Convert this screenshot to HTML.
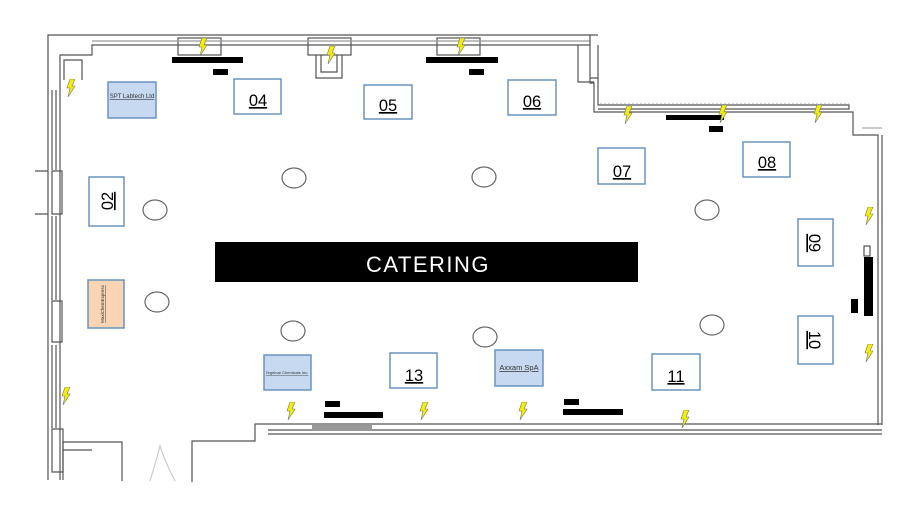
<!DOCTYPE html>
<html><head><style>
body{margin:0;background:#fff;}
svg{display:block;font-family:"Liberation Sans",sans-serif;}
</style></head><body>
<svg width="918" height="507" viewBox="0 0 918 507" xmlns="http://www.w3.org/2000/svg">
<defs>
<symbol id="bolt" viewBox="0 0 10 18"><polygon points="4,0 9,0 6,7 9,7 2,18 4,9 1,9" fill="#f4f000" stroke="#777" stroke-width="0.6"/></symbol>
</defs>
<g fill="none" stroke="#555" stroke-width="1.2">
<path d="M48,480 L48,35 L598,35"/>
<path d="M60,480 L60,55 L92,55 L92,45 L590,45"/>
<path d="M64,80 L64,60 L82,60 L82,80"/>
<rect x="178" y="38" width="43" height="17"/>
<rect x="308" y="38" width="43" height="17"/>
<rect x="437" y="38" width="43" height="17"/>
<path d="M316,55 L316,78 L342,78 L342,55 M321,55 L321,72 L337,72 L337,55"/>
<path d="M92,41 L590,41" stroke="#999"/>
<path d="M590,35 L590,83 L594,83 L594,112 L853,112 L853,135 L878,135 L878,425"/>
<path d="M598,45 L598,78 L590,78 M598,50 L598,105 L849,105 L849,109 L598,109" />
<path d="M578,45 L578,82 L594,82"/>
<path d="M600,104 L849,104" stroke="#bbb" stroke-dasharray="2,2"/>
<path d="M882,135 L882,425"/>
<path d="M862,128 L882,128" stroke="#aaa"/>
<path d="M882,424 L255,424 L255,441 L192,441 L192,482"/>
<path d="M882,430 L268,430"/>
<path d="M882,434 L268,434"/>
<path d="M122,481 L122,442 L63,442 L63,480"/>
<path d="M63,450 L92,450"/>
<path d="M52,171 L62,171 L62,214 L52,214 Z M52,301 L62,301 L62,342 L52,342 Z M52,429 L63,429 L63,472 L52,472 Z"/>
<path d="M35,171 L48,171 M35,214 L48,214"/>
<path d="M52,90 L52,170 M56,90 L56,170 M52,216 L52,300 M56,216 L56,300 M52,345 L52,428 M56,345 L56,428"/>
<path d="M150,481 Q158,455 160,445 Q162,455 175,481" stroke="#ccc"/>
</g>
<rect x="312" y="425" width="60" height="6" fill="#999"/>
<g fill="none" stroke="#666" stroke-width="1.2">
<ellipse cx="294" cy="178" rx="12" ry="10"/><ellipse cx="484" cy="177" rx="12" ry="10"/>
<ellipse cx="155" cy="210" rx="12" ry="10"/><ellipse cx="707" cy="210" rx="12" ry="10"/>
<ellipse cx="157" cy="302" rx="12" ry="10"/><ellipse cx="293" cy="331" rx="12" ry="10"/>
<ellipse cx="485" cy="337" rx="12" ry="10"/><ellipse cx="712" cy="325" rx="12" ry="10"/>
</g>
<g fill="#000">
<rect x="172" y="57" width="71" height="6"/><rect x="213" y="69" width="15" height="6"/>
<rect x="426" y="57" width="72" height="6"/><rect x="469" y="69" width="15" height="6"/>
<rect x="666" y="115" width="58" height="5"/><rect x="709" y="126" width="14" height="6"/>
<rect x="325" y="401" width="15" height="6"/><rect x="324" y="412" width="59" height="6"/>
<rect x="564" y="399" width="15" height="6"/><rect x="563" y="409" width="60" height="6"/>
<rect x="864" y="257" width="9" height="59"/><rect x="851" y="299" width="7" height="14"/>
</g>
<rect x="864" y="246" width="6" height="10" fill="#fff" stroke="#333"/>
<rect x="215" y="242" width="423" height="40" fill="#000"/>
<text x="428" y="272" fill="#fff" font-size="22" text-anchor="middle" letter-spacing="1.5">CATERING</text>
<g stroke="#6a93c0" stroke-width="1.5" fill="#fff">
<rect x="234" y="79" width="47" height="35"/><rect x="364" y="85" width="48" height="34"/>
<rect x="508" y="80" width="48" height="35"/><rect x="598" y="148" width="47" height="36"/>
<rect x="743" y="142" width="47" height="35"/><rect x="89" y="177" width="35" height="49"/>
<rect x="798" y="219" width="35" height="47"/><rect x="798" y="316" width="35" height="48"/>
<rect x="652" y="354" width="48" height="36"/><rect x="390" y="353" width="47" height="35"/>
<rect x="108" y="82" width="48" height="36" fill="#c6d9f0"/>
<rect x="88" y="280" width="36" height="48" fill="#f9d5b5"/>
<rect x="264" y="355" width="47" height="35" fill="#c6d9f0"/>
<rect x="495" y="350" width="48" height="36" fill="#c6d9f0"/>
</g>
<g font-size="16.5" text-anchor="middle" text-decoration="underline" fill="#000">
<text x="258" y="106">04</text><text x="388" y="111">05</text><text x="532" y="107">06</text>
<text x="622" y="177">07</text><text x="767" y="168">08</text><text x="676" y="382">11</text>
<text x="414" y="381">13</text>
<text transform="translate(113,201) rotate(-90)">02</text>
<text transform="translate(809,243) rotate(90)">09</text>
<text transform="translate(809,340) rotate(90)">10</text>
</g>
<g font-size="6" text-anchor="middle" text-decoration="underline" fill="#333">
<text x="132" y="98">SPT Labtech Ltd</text>
<text x="287" y="374" font-size="4">Tegeinar Chemicals Inc.</text>
<text x="519" y="370" font-size="7.5">Axxam SpA</text>
<text transform="translate(104,304) rotate(-90)" font-size="4.5">MaxiChemExpress</text>
</g>
<g>
<use href="#bolt" x="198" y="38" width="10" height="18"/><use href="#bolt" x="326" y="46" width="10" height="18"/>
<use href="#bolt" x="456" y="38" width="10" height="18"/><use href="#bolt" x="66" y="79" width="10" height="18"/>
<use href="#bolt" x="623" y="106" width="10" height="18"/><use href="#bolt" x="718" y="105" width="10" height="18"/>
<use href="#bolt" x="813" y="105" width="10" height="18"/><use href="#bolt" x="864" y="207" width="10" height="18"/>
<use href="#bolt" x="864" y="344" width="10" height="18"/><use href="#bolt" x="61" y="387" width="10" height="18"/>
<use href="#bolt" x="286" y="402" width="10" height="18"/><use href="#bolt" x="419" y="402" width="10" height="18"/>
<use href="#bolt" x="518" y="402" width="10" height="18"/><use href="#bolt" x="680" y="410" width="10" height="18"/>
</g>
</svg>
</body></html>
